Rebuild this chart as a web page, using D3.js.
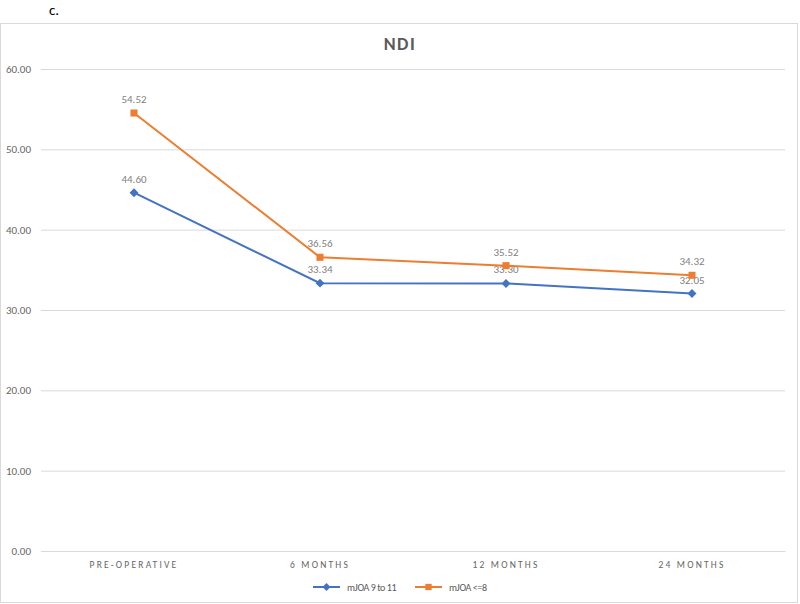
<!DOCTYPE html>
<html>
<head>
<meta charset="utf-8">
<script src="https://cdn.jsdelivr.net/npm/d3@7"></script>
<style>
  body { margin: 0; background: #fff; font-family: Calibri, Carlito, "Open Sans", "Liberation Sans", sans-serif; }
</style>
</head>
<body>
<div id="chart"></div>
<script>
const categories = ["PRE-OPERATIVE", "6 MONTHS", "12 MONTHS", "24 MONTHS"]
const seriesNames = ["mJOA 9 to 11", "mJOA <=8"]
const mjoa9to11 = [44.60, 33.34, 33.30, 32.05]
const mjoaLe8 = [54.52, 36.56, 35.52, 34.32]
const yTicks = [0, 10, 20, 30, 40, 50, 60]
const colors = ["#4472C4", "#ED7D31"]

const W = 800, H = 604
const MARGIN = { LEFT: 41, RIGHT: 15, TOP: 69, BOTTOM: 53 }
const WIDTH = W - MARGIN.LEFT - MARGIN.RIGHT
const HEIGHT = H - MARGIN.TOP - MARGIN.BOTTOM

const svg = d3.select("#chart").append("svg")
  .attr("width", W)
  .attr("height", H)

// chart frame
svg.append("rect")
  .attr("x", 0.5).attr("y", 23.5)
  .attr("width", 797).attr("height", 579)
  .attr("fill", "#fff")
  .attr("stroke", "#d9d9d9")

svg.append("text")
  .attr("x", 49).attr("y", 15)
  .attr("font-size", "15px")
  .attr("fill", "#000")
  .text("c.")

svg.append("text")
  .attr("x", W / 2).attr("y", 50)
  .attr("text-anchor", "middle")
  .attr("font-size", "18px")
  .attr("font-weight", "bold")
  .attr("letter-spacing", "1.5px")
  .attr("fill", "#595959")
  .text("NDI")

const g = svg.append("g")
  .attr("transform", `translate(${MARGIN.LEFT}, ${MARGIN.TOP})`)

const x = d3.scaleBand().domain(categories).range([0, WIDTH])
const y = d3.scaleLinear().domain([0, 60]).range([HEIGHT, 0])

// gridlines
const yAxis = g.append("g")
  .call(d3.axisLeft(y).tickValues(yTicks).tickSize(-WIDTH).tickFormat(d3.format(".2f")))
yAxis.select(".domain").remove()
yAxis.selectAll("line").attr("stroke", "#d9d9d9")
yAxis.selectAll("text")
  .attr("x", -10)
  .attr("fill", "#666")
  .attr("font-size", "11px")
  .attr("font-family", "Calibri, Carlito, 'Open Sans', sans-serif")

const xAxis = g.append("g")
  .attr("transform", `translate(0, ${HEIGHT})`)
  .call(d3.axisBottom(x).tickSize(0))
xAxis.select(".domain").attr("stroke", "#d9d9d9")
xAxis.selectAll("text")
  .attr("dy", "1.45em")
  .attr("fill", "#666")
  .attr("font-size", "9.5px")
  .attr("letter-spacing", "2.2px")
  .attr("font-family", "Calibri, Carlito, 'Open Sans', sans-serif")

const cx = d => x(d) + x.bandwidth() / 2
const line = d3.line()
  .x((d, i) => cx(categories[i]))
  .y(d => y(d))

const allSeries = [mjoa9to11, mjoaLe8]

allSeries.forEach((vals, s) => {
  g.append("path")
    .datum(vals)
    .attr("d", line)
    .attr("fill", "none")
    .attr("stroke", colors[s])
    .attr("stroke-width", 2)

  const sym = d3.symbol().type(s === 0 ? d3.symbolDiamond2 : d3.symbolSquare).size(50)
  g.selectAll(".pt" + s)
    .data(vals)
    .enter().append("path")
    .attr("class", "pt" + s)
    .attr("d", sym)
    .attr("transform", (d, i) => `translate(${cx(categories[i])}, ${y(d)})`)
    .attr("fill", colors[s])

  g.selectAll(".lbl" + s)
    .data(vals)
    .enter().append("text")
    .attr("class", "lbl" + s)
    .attr("x", (d, i) => cx(categories[i]))
    .attr("y", d => y(d) - 10)
    .attr("text-anchor", "middle")
    .attr("font-size", "11px")
    .attr("fill", "#7f7f7f")
    .text(d => d3.format(".2f")(d))
})

// legend
const legend = svg.append("g")
  .attr("transform", `translate(313, 587)`)
const legendX = [0, 102]
seriesNames.forEach((name, s) => {
  const lg = legend.append("g").attr("transform", `translate(${legendX[s]}, 0)`)
  lg.append("line")
    .attr("x1", 0).attr("x2", 27)
    .attr("stroke", colors[s]).attr("stroke-width", 2)
  lg.append("path")
    .attr("d", d3.symbol().type(s === 0 ? d3.symbolDiamond2 : d3.symbolSquare).size(40))
    .attr("transform", "translate(13.5, 0)")
    .attr("fill", colors[s])
  lg.append("text")
    .attr("x", 34).attr("y", 4)
    .attr("font-size", "10px")
    .attr("letter-spacing", "-0.4px")
    .attr("fill", "#595959")
    .text(name)
})
</script>
</body>
</html>
